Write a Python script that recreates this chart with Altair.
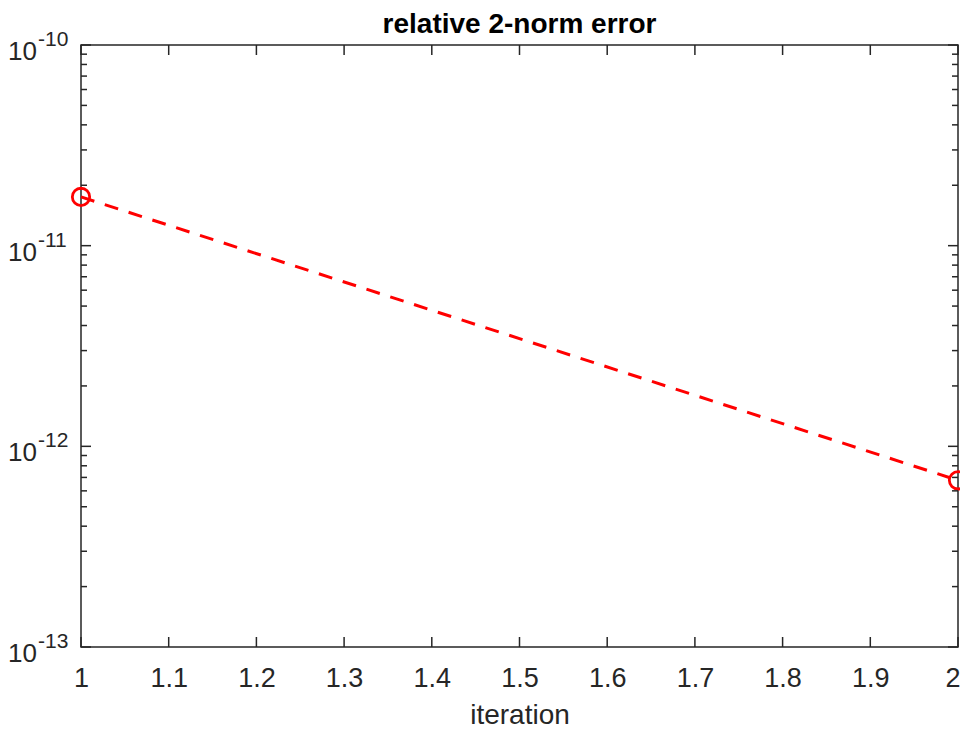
import altair as alt
import pandas as pd

# ---- data ----
iterations = [1, 2]
errors = [1.75e-11, 6.77e-13]

x_tick_values = [1.0, 1.1, 1.2, 1.3, 1.4, 1.5, 1.6, 1.7, 1.8, 1.9, 2.0]
y_decades = [1e-13, 1e-12, 1e-11, 1e-10]
y_exponents = ["-13", "-12", "-11", "-10"]
minor_multipliers = [2, 3, 4, 5, 6, 7, 8, 9]
minor_decades = [1e-13, 1e-12, 1e-11]
chart_title = ["relative 2-norm error"]

W, H = 877, 602
AX = "#262626"
FONT = "Liberation Sans"

line_df = pd.DataFrame({"iteration": iterations, "error": errors})
xt_df = pd.DataFrame({"x": x_tick_values})
dec_df = pd.DataFrame({"v": y_decades, "exp": y_exponents})
minor_df = pd.DataFrame({"v": [m * d for d in minor_decades for m in minor_multipliers]})
title_df = pd.DataFrame({"t": chart_title})

xscale = alt.Scale(domain=[1, 2], nice=False, zero=False)
yscale = alt.Scale(type="log", domain=[1e-13, 1e-10], nice=False)

xaxis = alt.Axis(
    values=x_tick_values, format="~g", labelFontSize=27, labelFont=FONT,
    labelColor=AX, ticks=False, tickSize=0, domain=False, grid=False,
    labelPadding=18, labelFlush=False, labelOverlap=False,
    labelAlign={"condition": {"test": "datum.value >= 2", "value": "right"}, "value": "center"},
    labelOffset={"condition": {"test": "datum.value >= 2", "value": 2}, "value": 0},
    title="iteration", titleFont=FONT, titleFontSize=28, titleFontWeight="normal",
    titleColor=AX, titleBaseline="alphabetic", titleY=76,
)

def X(field):
    return alt.X(field, type="quantitative", scale=xscale, axis=xaxis)

def Y(field):
    return alt.Y(field, type="quantitative", scale=yscale, axis=None)

line = alt.Chart(line_df).mark_line(
    color="red", strokeDash=[14, 11], strokeWidth=3
).encode(x=X("iteration"), y=Y("error"))

pts = alt.Chart(line_df).mark_point(
    shape="circle", filled=False, size=300, strokeWidth=2.8, color="red", opacity=1
).encode(x=X("iteration"), y=Y("error"))

xt_bottom = alt.Chart(xt_df).mark_rule(color=AX, strokeWidth=1.5).encode(
    x=X("x"), y=alt.value(H), y2=alt.value(H - 10))
xt_top = alt.Chart(xt_df).mark_rule(color=AX, strokeWidth=1.5).encode(
    x=X("x"), y=alt.value(0), y2=alt.value(10))

yt_left = alt.Chart(dec_df).mark_rule(color=AX, strokeWidth=1.5).encode(
    y=Y("v"), x=alt.value(0), x2=alt.value(10))
yt_right = alt.Chart(dec_df).mark_rule(color=AX, strokeWidth=1.5).encode(
    y=Y("v"), x=alt.value(W), x2=alt.value(W - 10))
ym_left = alt.Chart(minor_df).mark_rule(color=AX, strokeWidth=1.5).encode(
    y=Y("v"), x=alt.value(0), x2=alt.value(6))
ym_right = alt.Chart(minor_df).mark_rule(color=AX, strokeWidth=1.5).encode(
    y=Y("v"), x=alt.value(W), x2=alt.value(W - 6))

lab_base = alt.Chart(dec_df).mark_text(
    text="10", font=FONT, fontSize=26, color=AX, align="right",
    baseline="alphabetic", dy=15
).encode(y=Y("v"), x=alt.value(-44))
lab_exp = alt.Chart(dec_df).mark_text(
    font=FONT, fontSize=21, color=AX, align="left", baseline="alphabetic", dy=1
).encode(y=Y("v"), x=alt.value(-43), text="exp:N")

title = alt.Chart(title_df).mark_text(
    font=FONT, fontSize=28, fontWeight="bold", color="black", align="center",
    baseline="alphabetic"
).encode(x=alt.value(W / 2), y=alt.value(-12), text="t:N")

chart = alt.layer(
    line, pts, xt_bottom, xt_top, yt_left, yt_right, ym_left, ym_right,
    lab_base, lab_exp, title
).properties(
    width=W, height=H,
    autosize=alt.AutoSizeParams(type="none"),
    padding={"left": 73, "top": 37, "right": 2, "bottom": 82},
    background="white",
).configure_view(stroke=AX, strokeWidth=1.5)

chart.save("out.html", embed_options={"renderer": "svg", "actions": False})
